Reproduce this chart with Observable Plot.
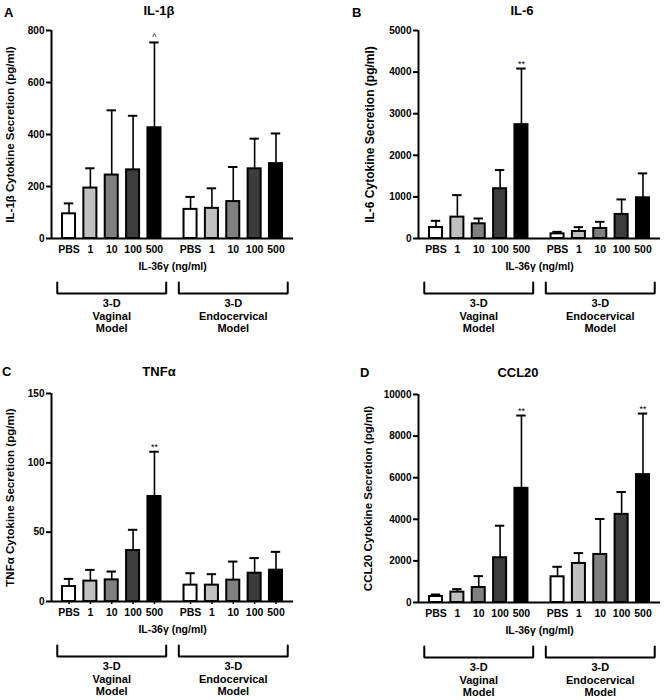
<!DOCTYPE html>
<html><head><meta charset="utf-8">
<script src="https://cdn.jsdelivr.net/npm/d3@7"></script>
<script src="https://cdn.jsdelivr.net/npm/@observablehq/plot@0.6"></script>
<style>
html,body{margin:0;padding:0;background:#fff;}
#root{position:relative;width:666px;height:700px;overflow:hidden;font-family:"Liberation Sans",Arial,sans-serif;}
.panel{position:absolute;width:333px;height:350px;}
.letter{position:absolute;font-size:13px;font-weight:bold;line-height:13px;}
.title{position:absolute;font-size:13px;font-weight:bold;line-height:13px;transform:translateX(-50%);white-space:nowrap;}
.panel svg{position:absolute;left:0;}
</style></head><body><div id="root"></div>
<script>
// ---------- data ----------
const doses = ["PBS", "1", "10", "100", "500"];
const models = ["3-D\nVaginal\nModel", "3-D\nEndocervical\nModel"];
const xTitle = "IL-36γ (ng/ml)";
const barFills = ["#ffffff", "#c0c0c0", "#808080", "#3c3c3c", "#000000"];

// A: IL-1β
const il1bVag = [95, 194, 244, 264, 426];
const il1bVagSD = [40, 76, 249, 208, 328];
const il1bEndo = [112, 116, 142, 268, 288];
const il1bEndoSD = [48, 77, 133, 116, 116];
const il1bVagSig = ["", "", "", "", "^"];
const il1bEndoSig = ["", "", "", "", ""];
const il1bTicks = [0, 200, 400, 600, 800];

// B: IL-6
const il6Vag = [265, 514, 353, 1196, 2737];
const il6VagSD = [160, 529, 128, 449, 1348];
const il6Endo = [112, 168, 241, 578, 979];
const il6EndoSD = [48, 105, 160, 361, 586];
const il6VagSig = ["", "", "", "", "**"];
const il6EndoSig = ["", "", "", "", ""];
const il6Ticks = [0, 1000, 2000, 3000, 4000, 5000];

// C: TNFα
const tnfVag = [10.8, 14.7, 15.6, 36.8, 75.7];
const tnfVagSD = [5.5, 8.1, 6.0, 14.9, 32.3];
const tnfEndo = [11.8, 11.8, 15.4, 20.4, 22.6];
const tnfEndoSD = [8.6, 7.9, 13.4, 10.9, 13.2];
const tnfVagSig = ["", "", "", "", "**"];
const tnfEndoSig = ["", "", "", "", ""];
const tnfTicks = [0, 50, 100, 150];

// D: CCL20
const ccl20Vag = [289, 498, 722, 2151, 5490];
const ccl20VagSD = [96, 144, 546, 1541, 3498];
const ccl20Endo = [1236, 1878, 2311, 4237, 6147];
const ccl20EndoSD = [481, 497, 1702, 1076, 2937];
const ccl20VagSig = ["", "", "", "", "**"];
const ccl20EndoSig = ["", "", "", "", "**"];
const ccl20Ticks = [0, 2000, 4000, 6000, 8000, 10000];

// ---------- layout ----------
const groupOffset = 5.69;
const halfBar = 0.305;
const halfCap = 0.22;
const bracketPad = 0.55;
const xDomain = [-0.82, 10.51];
const frameW = 242, frameH = 208, mBottom = 42;
const FONT = '"Liberation Sans", Arial, sans-serif';

const panels = [
  {letter: "A", title: "IL-1β", ylabel: "IL-1β Cytokine Secretion (pg/ml)",
   vag: il1bVag, vagSD: il1bVagSD, endo: il1bEndo, endoSD: il1bEndoSD, vagSig: il1bVagSig, endoSig: il1bEndoSig, ticks: il1bTicks,
   left: 0, top: 0, marginLeft: 51, marginTop: 30, letterX: 4, letterY: 5.5, titleX: 159, titleY: 3.5, ylabelDx: -41, ylabelSize: 11.5, xTick: 0},
  {letter: "B", title: "IL-6", ylabel: "IL-6 Cytokine Secretion (pg/ml)",
   vag: il6Vag, vagSD: il6VagSD, endo: il6Endo, endoSD: il6EndoSD, vagSig: il6VagSig, endoSig: il6EndoSig, ticks: il6Ticks,
   left: 333, top: 0, marginLeft: 85, marginTop: 30, letterX: 19, letterY: 5.5, titleX: 189, titleY: 3.5, ylabelDx: -48, ylabelSize: 12, xTick: 0},
  {letter: "C", title: "TNFα", ylabel: "TNFα Cytokine Secretion (pg/ml)",
   vag: tnfVag, vagSD: tnfVagSD, endo: tnfEndo, endoSD: tnfEndoSD, vagSig: tnfVagSig, endoSig: tnfEndoSig, ticks: tnfTicks,
   left: 0, top: 350, marginLeft: 51, marginTop: 43, letterX: 2, letterY: 15, titleX: 159, titleY: 15, ylabelDx: -41, ylabelSize: 11.5, xTick: 3},
  {letter: "D", title: "CCL20", ylabel: "CCL20 Cytokine Secretion (pg/ml)",
   vag: ccl20Vag, vagSD: ccl20VagSD, endo: ccl20Endo, endoSD: ccl20EndoSD, vagSig: ccl20VagSig, endoSig: ccl20EndoSig, ticks: ccl20Ticks,
   left: 333, top: 350, marginLeft: 85, marginTop: 44, letterX: 27, letterY: 15.5, titleX: 185, titleY: 15.5, ylabelDx: -50, ylabelSize: 11.5, xTick: 0}
];

const root = document.getElementById("root");

for (const cfg of panels) {
  const el = document.createElement("div");
  el.className = "panel";
  el.style.left = cfg.left + "px";
  el.style.top = cfg.top + "px";
  root.appendChild(el);

  const rows = [];
  [[cfg.vag, cfg.vagSD, cfg.vagSig], [cfg.endo, cfg.endoSD, cfg.endoSig]].forEach(([vals, sds, sigs], g) => {
    vals.forEach((v, i) => rows.push({
      g, dose: doses[i], x: g * groupOffset + i, value: v, top: v + sds[i], sig: sigs[i], fill: barFills[i]
    }));
  });
  const labelAt = new Map(rows.map(d => [d.x, d.dose]));
  const yMax = cfg.ticks[cfg.ticks.length - 1];
  const marginRight = 333 - cfg.marginLeft - frameW;
  const height = cfg.marginTop + frameH + mBottom;

  const chart = Plot.plot({
    width: 333, height,
    marginLeft: cfg.marginLeft, marginRight, marginTop: cfg.marginTop, marginBottom: mBottom,
    x: {domain: xDomain},
    y: {domain: [0, yMax]},
    color: {type: "identity"},
    style: {fontFamily: FONT, fontSize: "10px", fontWeight: "bold", background: "transparent", overflow: "visible"},
    marks: [
      Plot.ruleX(rows, {x: "x", y1: "value", y2: "top", stroke: "black", strokeWidth: 1.6}),
      Plot.rectY(rows, {x1: d => d.x - halfBar, x2: d => d.x + halfBar, y1: () => 0, y2: "value", fill: "fill", stroke: "black", strokeWidth: 2}),
      Plot.ruleY(rows, {x1: d => d.x - halfCap, x2: d => d.x + halfCap, y: "top", stroke: "black", strokeWidth: 2}),
      Plot.text(rows.filter(d => d.sig), {x: "x", y: "top", text: "sig", lineAnchor: "bottom", dy: -2, fontSize: 9, fontWeight: "normal"}),
      Plot.ruleY([0], {stroke: "black", strokeWidth: 2}),
      Plot.ruleX([xDomain[0]], {stroke: "black", strokeWidth: 2}),
      Plot.axisY({ticks: cfg.ticks, tickFormat: d => `${d}`, tickSize: 5, tickPadding: 2, strokeWidth: 2, label: null, fontSize: 10}),
      Plot.axisX({ticks: rows.map(d => d.x), tickFormat: d => labelAt.get(d), tickSize: cfg.xTick, tickPadding: 7.5 - cfg.xTick, strokeWidth: 1.5, label: null, fontSize: 10.5}),
      Plot.text([cfg.ylabel], {frameAnchor: "left", rotate: -90, dx: cfg.ylabelDx, text: d => d, textAnchor: "middle", lineAnchor: "middle", fontSize: cfg.ylabelSize}),
      Plot.text([xTitle], {frameAnchor: "bottom", dy: 31, text: d => d, textAnchor: "middle", fontSize: 10.5})
    ]
  });
  chart.style.top = "0px";
  el.appendChild(chart);

  const groupsInfo = models.map((m, g) => {
    const x1 = g * groupOffset - bracketPad, x2 = g * groupOffset + 4 + bracketPad;
    return {g, label: m, x1, x2, cx: (x1 + x2) / 2};
  });
  const bracketPts = groupsInfo.flatMap(b => [
    {g: b.g, x: b.x1, y: 1}, {g: b.g, x: b.x1, y: 0}, {g: b.g, x: b.x2, y: 0}, {g: b.g, x: b.x2, y: 1}
  ]);

  const brackets = Plot.plot({
    width: 333, height: 57,
    marginLeft: cfg.marginLeft, marginRight, marginTop: 0, marginBottom: 0,
    x: {domain: xDomain, axis: null},
    y: {domain: [0, 1], range: [13, 2], axis: null},
    style: {fontFamily: FONT, fontSize: "11px", fontWeight: "bold", background: "transparent", overflow: "visible"},
    marks: [
      Plot.line(bracketPts, {x: "x", y: "y", z: "g", stroke: "black", strokeWidth: 2, strokeLinejoin: "miter"}),
      Plot.text(groupsInfo, {x: "cx", y: () => 0, text: "label", lineAnchor: "top", dy: 5, fontSize: 11, lineHeight: 1.14})
    ]
  });
  brackets.style.top = height + "px";
  el.appendChild(brackets);

  const letter = document.createElement("div");
  letter.className = "letter";
  letter.textContent = cfg.letter;
  letter.style.left = cfg.letterX + "px";
  letter.style.top = cfg.letterY + "px";
  el.appendChild(letter);

  const title = document.createElement("div");
  title.className = "title";
  title.textContent = cfg.title;
  title.style.left = cfg.titleX + "px";
  title.style.top = cfg.titleY + "px";
  el.appendChild(title);
}
</script>
</body></html>
